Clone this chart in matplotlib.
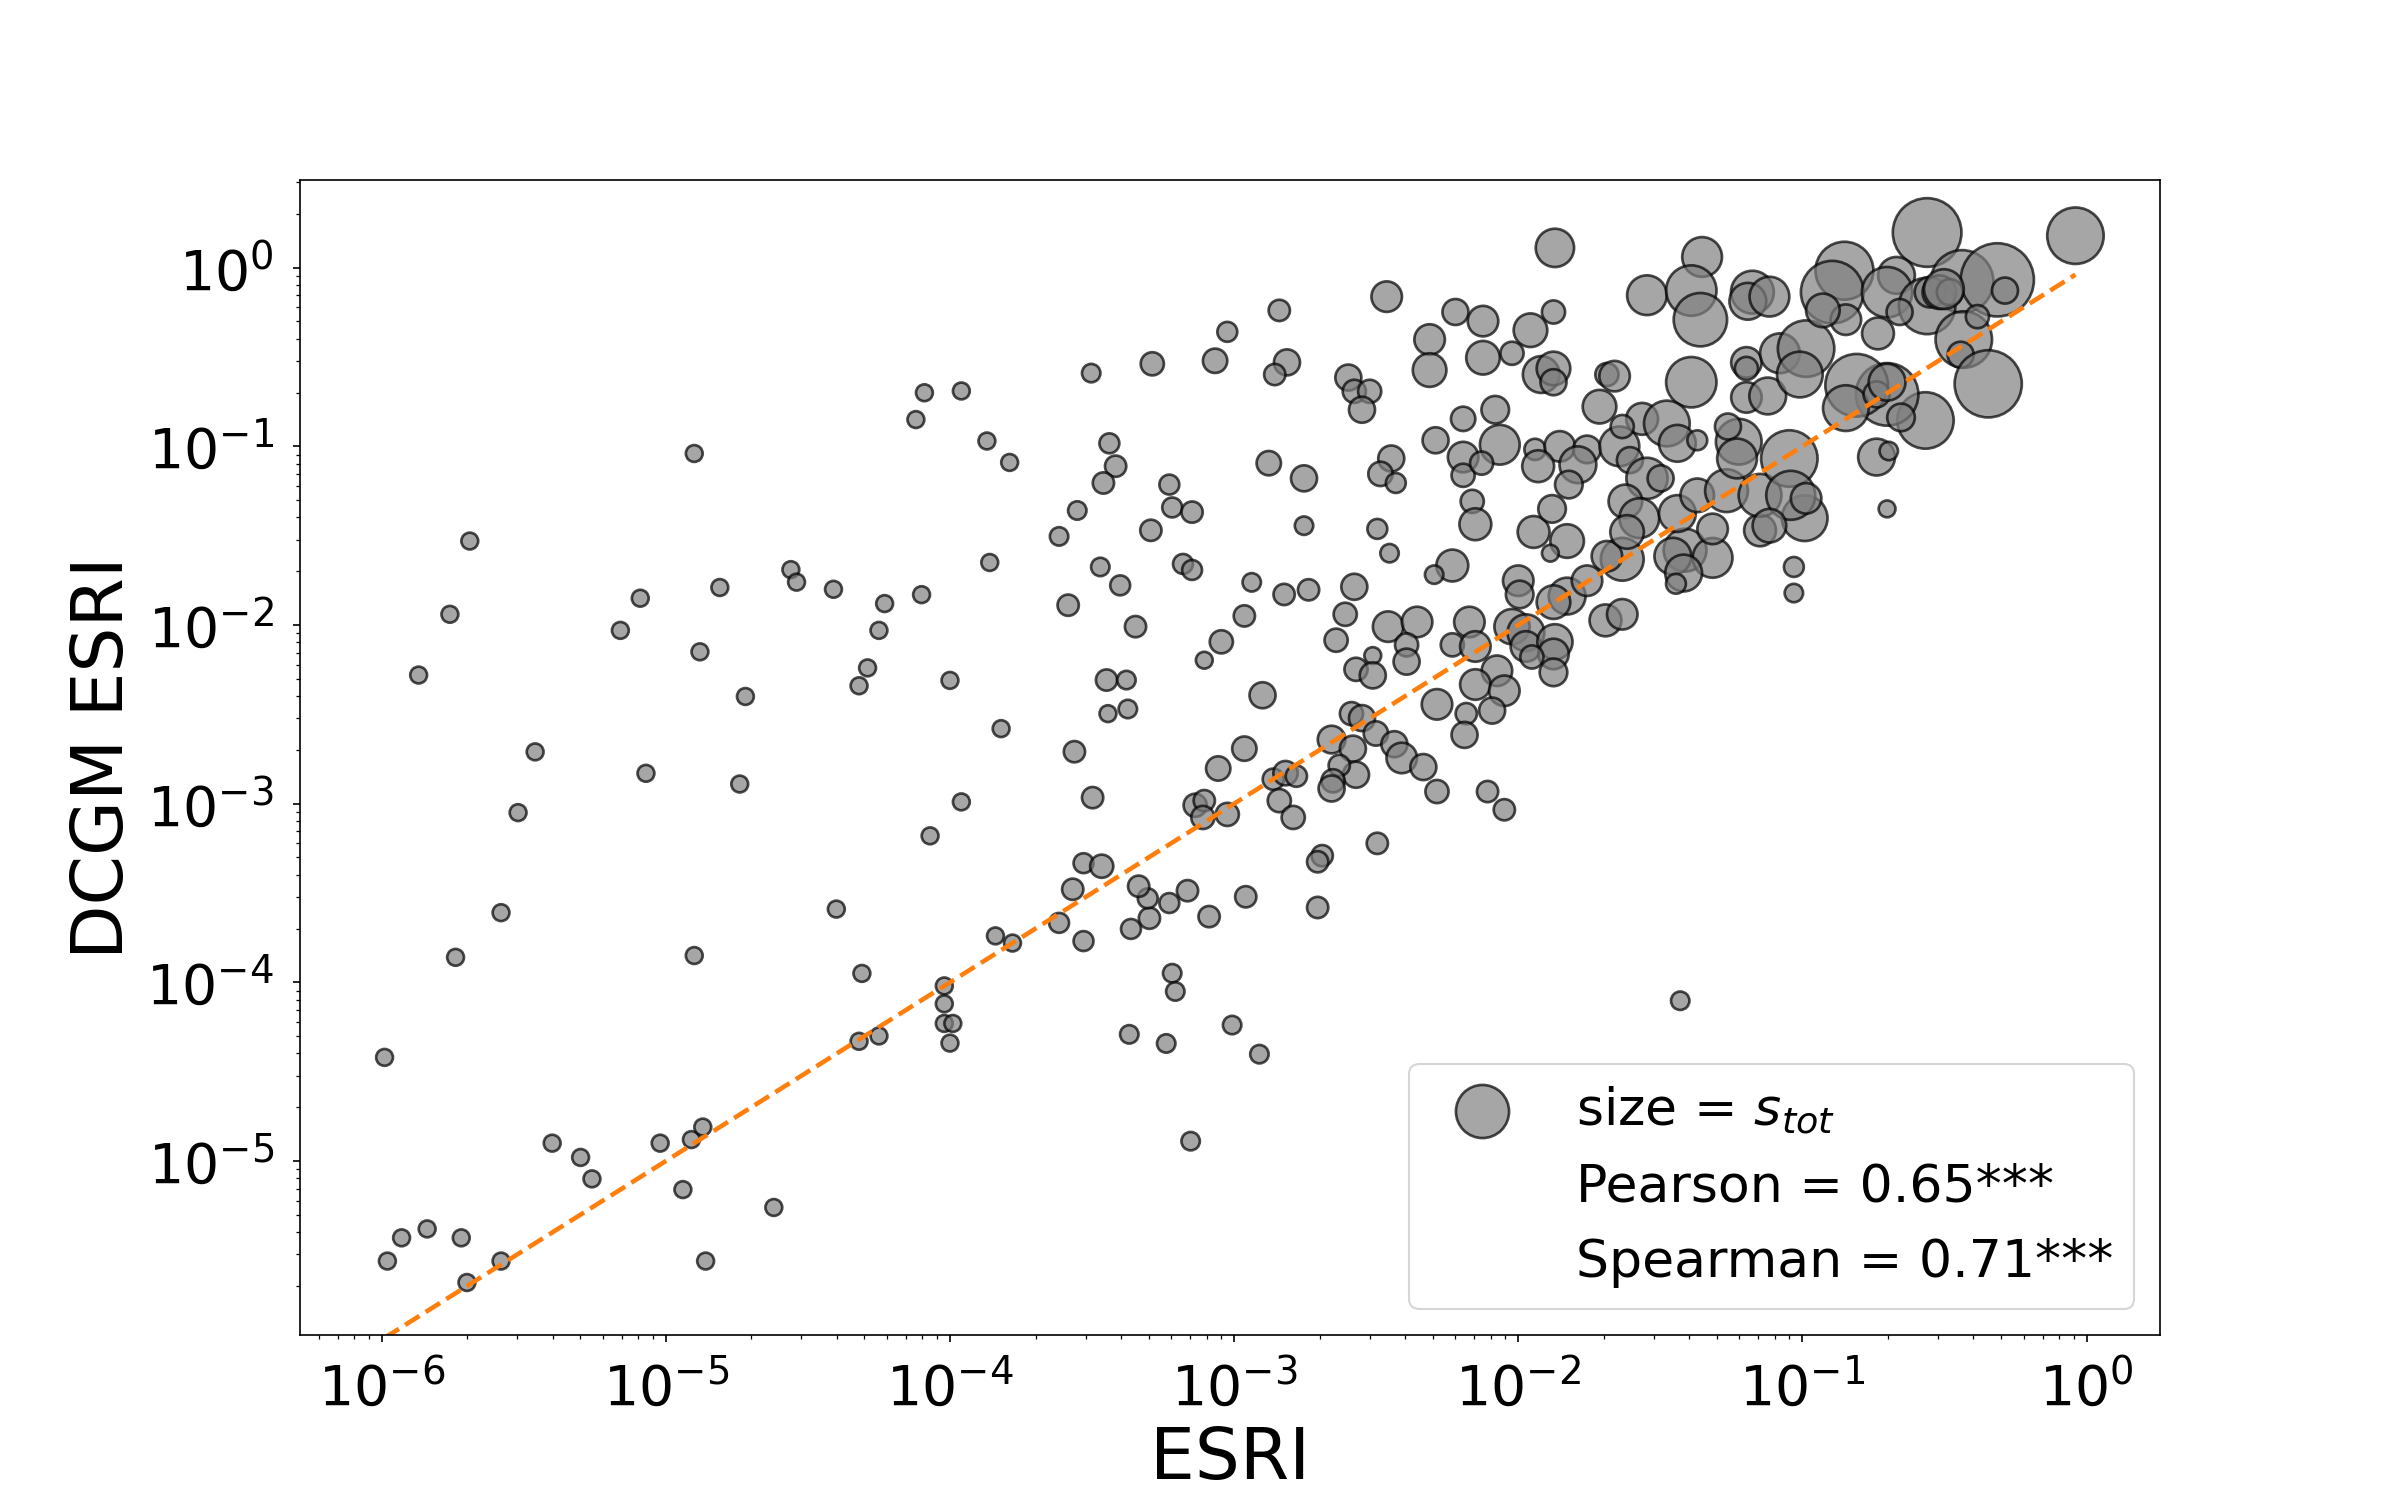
import numpy as np
import matplotlib
matplotlib.use("Agg")
import matplotlib.pyplot as plt
from matplotlib.lines import Line2D

# log10 of the ESRI values (x axis)
log_esri = [
    -5.99, -5.98, -5.93, -5.87, -5.84, -5.76, -5.74, -5.72, -5.70, -5.69,
    -5.58, -5.58, -5.52, -5.46, -5.40, -5.30, -5.26, -5.16, -5.09, -5.07,
    -5.02, -4.94, -4.91, -4.90, -4.90, -4.88, -4.87, -4.86, -4.81, -4.74,
    -4.72, -4.62, -4.56, -4.54, -4.41, -4.40, -4.32, -4.31, -4.29, -4.32,
    -4.25, -4.25, -4.23, -4.12, -4.09, -4.10, -4.07, -4.02, -4.02, -4.02,
    -4.00, -4.00, -3.99, -3.96, -3.96, -3.87, -3.86, -3.84, -3.82, -3.79,
    -3.78,
    # middle band
    -3.503, -3.288, -3.067, -3.024, -2.841, -2.814, -2.857, -2.463, -2.312, -2.312,
    -2.221, -2.598, -2.577, -2.523, -2.550, -2.291, -2.447, -2.485, -2.431, -3.439,
    -3.417, -3.460, -3.552, -3.616, -3.228, -3.218, -3.148, -3.293, -2.878, -2.754,
    -2.754, -2.496, -2.453, -3.471, -3.401, -3.180, -3.148, -3.584, -3.347, -2.938,
    -2.824, -2.738, -2.577, -2.964, -3.045, -3.105, -2.609, -2.641, -2.458, -2.356,
    -2.393, -2.512, -2.571, -2.512, -2.232, -2.296, -3.449, -3.379,
    -3.444, -3.374, -2.900, -3.562, -3.498, -3.056, -2.964, -3.137, -3.105, -3.110,
    -3.024, -2.862, -2.819, -2.781, -2.841, -2.792, -2.657, -2.582, -2.571, -2.630,
    -2.652, -2.657, -2.587, -2.550, -2.501, -2.436, -2.410, -2.334, -2.286, -2.286,
    -2.393, -2.496, -2.690, -2.706, -2.706, -2.959, -3.088, -3.164, -3.228, -3.298,
    -3.363, -3.304, -3.336, -3.530, -3.466, -3.568, -3.616, -3.530, -3.218, -3.207,
    -3.369, -3.239, -3.007, -2.911, -3.153,
    # upper right cloud
    -1.828, -1.887, -1.946, -1.634, -1.688, -1.413, -1.456, -1.316, -1.418, -1.445,
    -1.149, -2.000, -1.995, -1.828, -1.876, -1.758, -1.693, -1.634, -2.172, -2.232,
    -2.151, -2.022, -1.973, -1.973, -1.871, -1.876, -1.952, -1.876, -2.075, -2.151,
    -2.049, -2.092, -2.183, -2.189, -2.108, -2.049, -1.430,
    -1.871, -2.124, -1.876, -1.957, -2.124, -2.022, -1.919, -1.876, -1.876, -1.547,
    -1.353, -1.391, -1.359, -1.176, -1.192, -1.116, -1.391, -1.197, -1.197, -1.079,
    -1.197, -1.122, -1.688, -1.661, -1.714, -2.081, -2.194, -2.065, -2.194, -2.194,
    -2.129, -2.162, -2.151, -1.941, -1.854, -1.758, -1.790, -1.930, -1.822, -1.881,
    -1.644, -1.564, -1.634, -1.477, -1.440, -1.224, -1.262, -1.370, -1.607, -1.547,
    -1.499, -1.623, -1.574, -1.440, -1.370, -1.267, -1.149, -1.230, -1.316, -1.617,
    -0.561, -0.039, -0.438, -0.314, -0.852, -0.895, -0.669, -0.702, -0.561, -0.551,
    -0.518, -0.481, -0.502, -0.287, -0.432, -0.443, -0.346, -0.567, -0.702, -0.809,
    -0.847, -0.739, -0.653, -0.702, -0.739, -0.696, -0.702, -1.046, -0.987, -0.992,
    -1.041, -0.847, -0.928, -0.734, -0.658, -0.384, -1.009, -0.987, -1.116, -1.030,
    -1.030,
]

# log10 of the DCGM ESRI values (y axis)
log_dcgm = [
    -4.42, -5.56, -5.43, -2.28, -5.38, -1.94, -3.86, -5.43, -5.68, -1.53,
    -5.56, -3.61, -3.05, -2.71, -4.90, -4.98, -5.10, -2.03, -1.85, -2.83,
    -4.90, -5.16, -4.88, -1.04, -3.85, -2.15, -4.81, -5.56, -1.79, -2.89,
    -2.40, -5.26, -1.69, -1.76, -1.80, -3.59, -2.34, -3.95, -2.24, -4.33,
    -2.03, -4.30, -1.88, -0.85, -0.70, -1.83, -3.18, -4.02, -4.12, -4.23,
    -2.31, -4.34, -4.23, -2.99, -0.69, -0.97, -1.65, -3.74, -2.58, -1.09,
    -3.78,
    -0.590, -0.538, -0.521, -0.359, -0.239, -0.530, -0.598, -0.162, -0.402, -0.573,
    -0.248, -0.615, -0.692, -0.692, -0.795, -0.966, -1.068, -1.154, -1.205, -0.983,
    -1.111, -1.205, -1.359, -1.504, -1.214, -1.342, -1.368, -1.470, -1.094, -1.179,
    -1.444, -1.462, -1.598, -1.675, -1.778, -1.658, -1.692, -1.889, -2.009, -1.761,
    -1.829, -1.803, -1.786, -1.949, -2.094, -2.197, -1.940, -2.085, -2.009, -1.983,
    -2.111, -2.171, -2.248, -2.282, -1.667, -1.718, -2.308, -2.308,
    -2.496, -2.470, -2.393, -2.709, -2.966, -2.803, -2.692, -3.009, -2.983, -3.077,
    -3.060, -2.863, -2.829, -2.846, -2.983, -3.077, -2.641, -2.692, -2.838, -2.786,
    -2.872, -2.915, -2.496, -2.521, -2.607, -2.667, -2.744, -2.795, -2.932, -2.444,
    -2.205, -3.222, -3.291, -3.325, -3.581, -3.521, -3.632, -3.487, -3.556, -3.641,
    -3.701, -3.530, -3.462, -3.333, -3.350, -3.479, -3.667, -3.769, -3.949, -4.051,
    -4.291, -4.342, -4.239, -4.402, -4.889,
    -1.530, -1.598, -1.479, -1.632, -1.615, -1.581, -1.615, -1.624, -1.709, -1.769,
    -1.470, -1.752, -1.829, -1.838, -1.872, -1.752, -1.974, -1.940, -1.983, -2.111,
    -2.120, -2.009, -2.043, -2.120, -2.094, -2.162, -2.179, -2.265, -2.256, -2.333,
    -2.368, -2.479, -2.496, -2.615, -2.932, -3.034, -4.103,
    0.111, -0.299, -0.248, -0.350, -0.504, -0.479, -0.598, -0.564, -0.641, -0.154,
    0.060, -0.128, -0.291, -0.137, -0.188, -0.162, -0.641, -0.530, -0.564, -0.479,
    -0.726, -0.718, -0.598, -0.607, -0.778, -0.795, -0.846, -0.991, -1.060, -1.162,
    -1.094, -1.308, -1.436, -1.017, -1.000, -1.017, -1.103, -1.111, -1.214, -1.350,
    -1.000, -0.846, -0.889, -0.872, -0.983, -0.974, -0.889, -0.966, -1.077, -1.179,
    -1.179, -1.308, -1.402, -1.376, -1.274, -1.248, -1.274, -1.068, -1.462, -1.479,
    0.197, 0.179, -0.077, -0.068, -0.017, -0.137, -0.043, -0.137, -0.214, -0.137,
    -0.137, -0.137, -0.120, -0.128, -0.402, -0.487, -0.650, -0.855, -0.709, -0.658,
    -0.786, -0.709, -0.838, -0.641, -1.060, -1.026, -1.350, -1.068, -0.453, -1.402,
    -1.274, -0.291, -0.239, -0.368, -0.248, -0.274, -0.598, -1.291, -1.444, -1.675,
    -1.821,
]

# s_tot, drives the bubble area
s_tot = [1.0] * 61 + [
    1.2, 1.9, 2.1, 1.4, 1.6, 2.4, 1.6, 3.3, 3.3, 4.0,
    2.4, 2.4, 1.9, 1.9, 2.4, 2.4, 2.4, 2.1, 1.4, 1.4,
    1.6, 1.6, 1.2, 1.2, 1.4, 1.4, 1.6, 1.6, 2.1, 2.4,
    1.2, 1.4, 1.2, 1.2, 1.4, 1.4, 1.4, 1.6, 1.6, 1.2,
    1.6, 1.6, 2.4, 1.6, 1.9, 1.0, 1.9, 1.9, 3.3, 3.3,
    1.9, 1.0, 1.9, 2.4, 3.6, 1.2, 1.6, 1.2,
    1.0, 1.2, 2.4, 1.6, 1.6, 2.1, 2.1, 1.9, 1.6, 1.9,
    1.9, 1.6, 2.1, 1.6, 1.9, 1.9, 2.7, 2.4, 2.4, 1.6,
    1.9, 2.4, 1.9, 2.4, 2.1, 2.4, 3.3, 2.4, 1.9, 3.3,
    2.4, 1.6, 1.6, 1.6, 1.6, 1.6, 1.6, 1.6, 1.4, 1.6,
    1.4, 1.4, 1.6, 1.4, 1.9, 1.6, 1.4, 1.4, 1.2, 1.2,
    1.2, 1.2, 1.2, 1.2, 1.2,
    4.0, 1.0, 3.6, 6.5, 3.3, 6.5, 4.8, 5.6, 4.8, 1.4,
    3.6, 3.3, 2.7, 4.8, 4.0, 3.3, 3.6, 3.3, 3.3, 1.9,
    3.3, 4.4, 4.8, 3.3, 4.4, 3.3, 1.9, 2.7, 3.3, 3.3,
    3.3, 2.4, 1.6, 2.4, 1.6, 1.6, 1.2,
    5.2, 3.3, 1.9, 4.0, 4.0, 1.9, 4.8, 4.0, 2.4, 5.6,
    5.6, 9.0, 10.1, 6.5, 4.8, 5.6, 9.0, 3.3, 1.9, 5.6,
    3.3, 4.8, 1.9, 3.3, 4.0, 2.7, 2.1, 5.6, 3.3, 1.9,
    1.9, 1.9, 3.6, 1.6, 3.3, 2.7, 4.8, 3.6, 2.7, 2.7,
    5.6, 3.6, 1.9, 7.4, 4.8, 7.4, 2.4, 1.4, 2.4, 6.0,
    2.4, 4.0, 5.6, 4.8, 4.0, 6.5, 6.5, 5.6, 3.3, 4.0,
    16.7, 11.3, 13.9, 19.0, 11.9, 13.9, 4.8, 9.0, 11.3, 3.3,
    4.0, 2.4, 5.6, 2.4, 11.3, 2.4, 16.0, 11.3, 13.9, 13.9,
    7.4, 2.4, 2.7, 4.8, 4.8, 1.2, 1.0, 11.3, 11.3, 7.4,
    8.5, 3.3, 4.0, 3.6, 2.4, 1.9, 7.4, 3.3, 4.0, 1.4,
    1.2,
]

legend_labels = ["size = $s_{tot}$", "Pearson = 0.65***", "Spearman = 0.71***"]

esri = 10 ** np.array(log_esri)
dcgm = 10 ** np.array(log_dcgm)
sizes = 65 * np.array(s_tot)

fig, ax = plt.subplots(figsize=(16, 10), dpi=150)

sc = ax.scatter(esri, dcgm, s=sizes, c="gray", alpha=0.7,
                edgecolors="black", linewidths=1.3, label=legend_labels[0])
ax.set_xscale("log")
ax.set_yscale("log")
ax.autoscale_view()
ax.set_xlim(ax.get_xlim())
ax.set_ylim(ax.get_ylim())

# identity line
lo, hi = esri.min(), esri.max()
ax.plot([lo, hi], [lo, hi], "--", color="tab:orange", linewidth=2.2,
        scalex=False, scaley=False)

ax.set_xlabel("ESRI", fontsize=34)
ax.set_ylabel("DCGM ESRI", fontsize=34)
ax.tick_params(labelsize=26.5, pad=9)

handles = [sc,
           Line2D([], [], linestyle="none"),
           Line2D([], [], linestyle="none")]
ax.legend(handles, legend_labels, loc="lower right", fontsize=25)

fig.savefig("out.png", dpi=150)
